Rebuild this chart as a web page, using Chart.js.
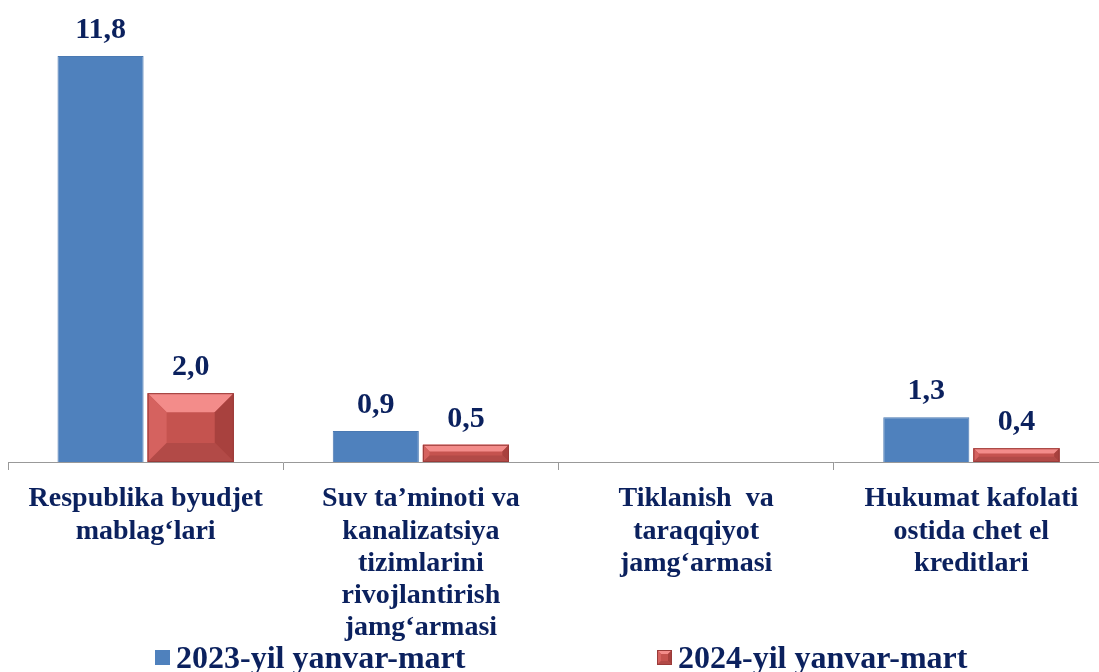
<!DOCTYPE html>
<html>
<head>
<meta charset="utf-8">
<script src="https://cdn.jsdelivr.net/npm/chart.js@4"></script>
<style>
  html, body { margin: 0; padding: 0; background: #fff; overflow: hidden; }
  #wrap { width: 1115px; height: 700px; }
</style>
</head>
<body>
<div id="wrap"><canvas id="chart" width="1115" height="700"></canvas></div>
<script>
// données
const categories = [
  ["Respublika byudjet", "mablag‘lari"],
  ["Suv ta’minoti va", "kanalizatsiya", "tizimlarini", "rivojlantirish", "jamg‘armasi"],
  ["Tiklanish  va", "taraqqiyot", "jamg‘armasi"],
  ["Hukumat kafolati", "ostida chet el", "kreditlari"]
];
const values2023 = [11.8, 0.9, null, 1.3];
const values2024 = [2.0, 0.5, null, 0.4];
const seriesNames = ["2023-yil yanvar-mart", "2024-yil yanvar-mart"];

const navy = "#0B215E";
const fontFamily = "'Liberation Serif', 'Times New Roman', serif";

// dessine un rectangle en relief (style biseauté)
function bevelRect(ctx, left, top, right, bottom, b) {
  const faces = [
    ["#F38C8A", [[left, top], [right, top], [right - b, top + b], [left + b, top + b]]],
    ["#D5625F", [[left, top], [left + b, top + b], [left + b, bottom - b], [left, bottom]]],
    ["#A8413E", [[right, top], [right, bottom], [right - b, bottom - b], [right - b, top + b]]],
    ["#B24A47", [[left, bottom], [left + b, bottom - b], [right - b, bottom - b], [right, bottom]]]
  ];
  ctx.fillStyle = "#C5534F";
  ctx.fillRect(left, top, right - left, bottom - top);
  faces.forEach(([color, pts]) => {
    ctx.beginPath();
    ctx.moveTo(pts[0][0], pts[0][1]);
    pts.slice(1).forEach((p) => ctx.lineTo(p[0], p[1]));
    ctx.closePath();
    ctx.fillStyle = color;
    ctx.fill();
  });
  ctx.strokeStyle = "#9A3B39";
  ctx.lineWidth = 1;
  ctx.strokeRect(left + 0.5, top + 0.5, right - left - 1, bottom - top - 1);
}

// biseau sur les barres rouges + étiquettes de valeurs
const barDecor = {
  id: "barDecor",
  afterDatasetsDraw(chart) {
    const ctx = chart.ctx;
    ctx.save();
    const meta2 = chart.getDatasetMeta(1);
    meta2.data.forEach((bar, i) => {
      if (values2024[i] == null) return;
      const p = bar.getProps(["x", "y", "width", "base"], true);
      const h = p.base - p.y;
      bevelRect(ctx, p.x - p.width / 2, p.y, p.x + p.width / 2, p.base, Math.min(19, h / 2.6));
    });
    ctx.font = "bold 30px " + fontFamily;
    ctx.fillStyle = navy;
    ctx.textAlign = "center";
    ctx.textBaseline = "alphabetic";
    chart.data.datasets.forEach((ds, di) => {
      chart.getDatasetMeta(di).data.forEach((bar, i) => {
        const v = ds.data[i];
        if (v == null) return;
        const p = bar.getProps(["x", "y"], true);
        ctx.fillText(v.toFixed(1).replace(".", ","), p.x, p.y - 18);
      });
    });
    ctx.restore();
  }
};

// légende dessinée à la main
const customLegend = {
  id: "customLegend",
  afterDraw(chart, args, opts) {
    const ctx = chart.ctx;
    ctx.save();
    ctx.font = "bold 32px " + fontFamily;
    ctx.textBaseline = "middle";
    chart.data.datasets.forEach((ds, i) => {
      const x = opts.starts[i];
      const y = opts.y;
      if (i === 0) {
        ctx.fillStyle = ds.backgroundColor;
        ctx.fillRect(x, y - 8, 15, 15);
      } else {
        bevelRect(ctx, x, y - 8, x + 15, y + 7, 4);
      }
      ctx.fillStyle = navy;
      ctx.fillText(ds.label, x + 21, y + 2);
    });
    ctx.restore();
  }
};

new Chart(document.getElementById("chart"), {
  type: "bar",
  data: {
    labels: categories,
    datasets: [
      {
        label: seriesNames[0],
        data: values2023,
        backgroundColor: "#4F81BD",
        borderColor: "#4A79B2",
        borderWidth: 1,
        categoryPercentage: 0.655,
        barPercentage: 0.955
      },
      {
        label: seriesNames[1],
        data: values2024,
        backgroundColor: "#C5534F",
        borderWidth: 0,
        categoryPercentage: 0.655,
        barPercentage: 0.955
      }
    ]
  },
  plugins: [barDecor, customLegend],
  options: {
    responsive: false,
    animation: false,
    layout: { padding: { left: 8, right: 6, top: 0, bottom: 0 } },
    plugins: {
      legend: { display: false },
      tooltip: { enabled: false },
      customLegend: { starts: [155, 657], y: 658 }
    },
    scales: {
      y: {
        display: false,
        min: 0,
        max: 13.43
      },
      x: {
        grid: {
          display: true,
          drawOnChartArea: false,
          color: "#999999",
          tickLength: 8,
          offset: true
        },
        border: { display: true, color: "#999999", width: 1 },
        ticks: {
          color: navy,
          autoSkip: false,
          maxRotation: 0,
          padding: 13,
          font: { family: fontFamily, size: 28, weight: "bold", lineHeight: 1.15 }
        },
        afterFit(scale) {
          scale.height = 238;
        }
      }
    }
  }
});
</script>
</body>
</html>
